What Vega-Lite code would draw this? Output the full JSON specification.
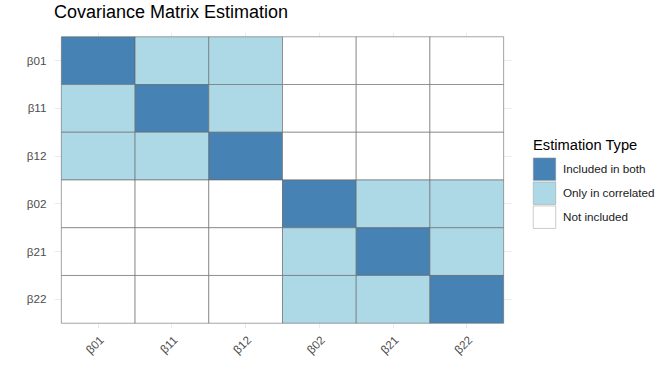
{
  "$schema": "https://vega.github.io/schema/vega-lite/v6.json",
  "autosize": {"type": "none"},
  "padding": {"left": 54, "top": 32, "right": 161, "bottom": 56},
  "width": 457,
  "height": 296,
  "background": "white",
  "title": {
    "text": "Covariance Matrix Estimation",
    "anchor": "start",
    "frame": "group",
    "font": "Liberation Sans",
    "fontSize": 18,
    "fontWeight": "normal",
    "color": "black",
    "offset": 10
  },
  "config": {
    "view": {"stroke": null},
    "font": "Liberation Sans"
  },
  "data": {
    "values": [
      {"row": "β01", "col": "β01", "type": "Included in both"},
      {"row": "β01", "col": "β11", "type": "Only in correlated"},
      {"row": "β01", "col": "β12", "type": "Only in correlated"},
      {"row": "β01", "col": "β02", "type": "Not included"},
      {"row": "β01", "col": "β21", "type": "Not included"},
      {"row": "β01", "col": "β22", "type": "Not included"},
      {"row": "β11", "col": "β01", "type": "Only in correlated"},
      {"row": "β11", "col": "β11", "type": "Included in both"},
      {"row": "β11", "col": "β12", "type": "Only in correlated"},
      {"row": "β11", "col": "β02", "type": "Not included"},
      {"row": "β11", "col": "β21", "type": "Not included"},
      {"row": "β11", "col": "β22", "type": "Not included"},
      {"row": "β12", "col": "β01", "type": "Only in correlated"},
      {"row": "β12", "col": "β11", "type": "Only in correlated"},
      {"row": "β12", "col": "β12", "type": "Included in both"},
      {"row": "β12", "col": "β02", "type": "Not included"},
      {"row": "β12", "col": "β21", "type": "Not included"},
      {"row": "β12", "col": "β22", "type": "Not included"},
      {"row": "β02", "col": "β01", "type": "Not included"},
      {"row": "β02", "col": "β11", "type": "Not included"},
      {"row": "β02", "col": "β12", "type": "Not included"},
      {"row": "β02", "col": "β02", "type": "Included in both"},
      {"row": "β02", "col": "β21", "type": "Only in correlated"},
      {"row": "β02", "col": "β22", "type": "Only in correlated"},
      {"row": "β21", "col": "β01", "type": "Not included"},
      {"row": "β21", "col": "β11", "type": "Not included"},
      {"row": "β21", "col": "β12", "type": "Not included"},
      {"row": "β21", "col": "β02", "type": "Only in correlated"},
      {"row": "β21", "col": "β21", "type": "Included in both"},
      {"row": "β21", "col": "β22", "type": "Only in correlated"},
      {"row": "β22", "col": "β01", "type": "Not included"},
      {"row": "β22", "col": "β11", "type": "Not included"},
      {"row": "β22", "col": "β12", "type": "Not included"},
      {"row": "β22", "col": "β02", "type": "Only in correlated"},
      {"row": "β22", "col": "β21", "type": "Only in correlated"},
      {"row": "β22", "col": "β22", "type": "Included in both"}
    ]
  },
  "mark": {"type": "rect", "stroke": "#666666", "strokeWidth": 0.6},
  "encoding": {
    "x": {
      "field": "col",
      "type": "nominal",
      "sort": ["β01", "β11", "β12", "β02", "β21", "β22"],
      "scale": {"paddingInner": 0, "paddingOuter": 0.1},
      "axis": {
        "title": null,
        "domain": false,
        "ticks": false,
        "grid": true,
        "zindex": 0,
        "gridColor": "#EBEBEB",
        "gridWidth": 1,
        "bandPosition": 0.5,
        "labelAngle": -45,
        "labelAlign": "right",
        "labelBaseline": "top",
        "labelPadding": 6,
        "labelFontSize": 11.7,
        "labelColor": "#4D4D4D",
        "labelFont": "Liberation Sans"
      }
    },
    "y": {
      "field": "row",
      "type": "nominal",
      "sort": ["β01", "β11", "β12", "β02", "β21", "β22"],
      "scale": {"paddingInner": 0, "paddingOuter": 0.1},
      "axis": {
        "title": null,
        "domain": false,
        "ticks": false,
        "grid": true,
        "zindex": 0,
        "gridColor": "#EBEBEB",
        "gridWidth": 1,
        "bandPosition": 0.5,
        "labelPadding": 8,
        "labelFontSize": 11.7,
        "labelColor": "#4D4D4D",
        "labelFont": "Liberation Sans"
      }
    },
    "fill": {
      "field": "type",
      "type": "nominal",
      "scale": {
        "domain": ["Included in both", "Only in correlated", "Not included"],
        "range": ["#4682B4", "#ADD8E6", "#FFFFFF"]
      },
      "legend": {
        "title": "Estimation Type",
        "orient": "none",
        "legendX": 479,
        "legendY": 106,
        "titleFontSize": 14.7,
        "titleFontWeight": "normal",
        "titleColor": "black",
        "titleFont": "Liberation Sans",
        "titlePadding": 5,
        "symbolType": "square",
        "symbolSize": 506,
        "symbolStrokeColor": "#999999",
        "symbolStrokeWidth": 0.5,
        "symbolOpacity": 1,
        "rowPadding": -2,
        "labelFontSize": 11.7,
        "labelColor": "#1A1A1A",
        "labelFont": "Liberation Sans",
        "labelOffset": 7
      }
    }
  }
}
